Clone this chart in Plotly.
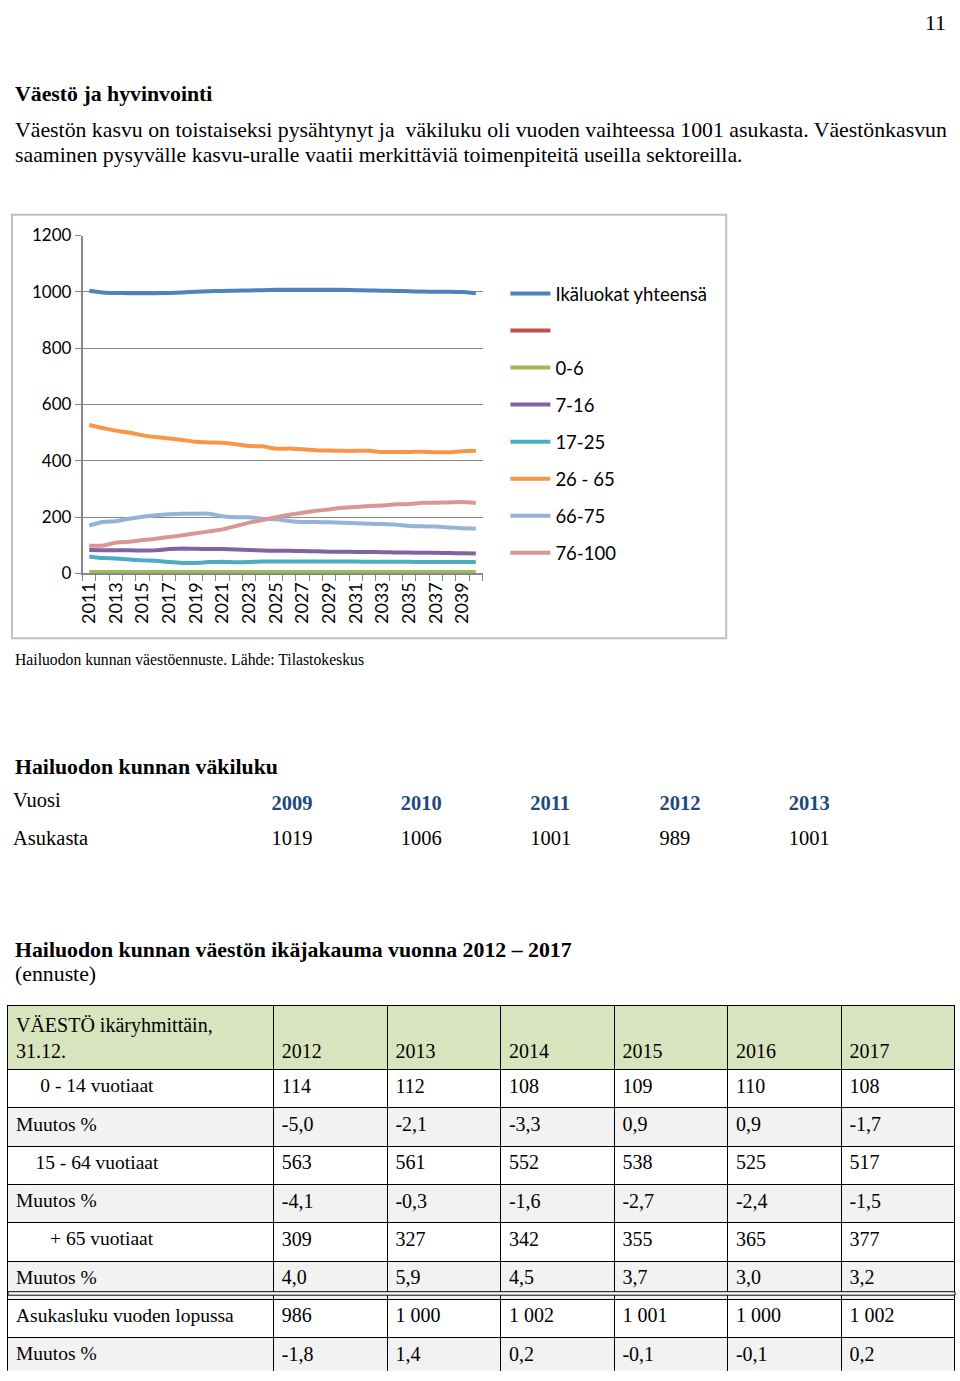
import plotly.graph_objects as go

W, H = 960, 1381

# ---------------- data ----------------
years = list(range(2011, 2041))
year_ticks = list(range(2011, 2040, 2))

total = [1004, 998, 996, 995, 995, 995, 996, 998, 1000, 1002, 1003, 1004, 1005, 1006, 1007,
         1007, 1007, 1007, 1007, 1007, 1006, 1005, 1004, 1003, 1002, 1001, 1000, 1000, 999, 995]
blank = [None] * 30
age_0_6 = [5, 5, 5, 5, 5, 5, 5, 5, 5, 5, 5, 5, 5, 5, 5,
           5, 5, 5, 5, 5, 5, 5, 5, 5, 5, 5, 5, 5, 5, 5]
age_7_16 = [83, 82, 82, 82, 81, 82, 86, 88, 87, 86, 86, 85, 83, 81, 80,
            80, 79, 78, 77, 77, 76, 76, 75, 74, 74, 73, 73, 72, 71, 70]
age_17_25 = [60, 54, 53, 49, 46, 45, 40, 37, 37, 40, 41, 39, 40, 42, 42,
             42, 42, 42, 42, 42, 42, 41, 41, 41, 41, 40, 40, 40, 40, 40]
age_26_65 = [527, 516, 507, 500, 490, 484, 479, 474, 467, 465, 464, 459, 452, 451, 443,
             443, 441, 437, 436, 435, 435, 435, 431, 431, 431, 432, 430, 430, 434, 435]
age_66_75 = [170, 182, 185, 194, 201, 206, 210, 212, 212, 212, 203, 199, 199, 194, 192,
             186, 182, 182, 181, 180, 178, 176, 175, 173, 168, 167, 166, 163, 160, 159]
age_76_100 = [98, 98, 109, 112, 118, 123, 129, 135, 142, 149, 156, 168, 180, 189, 199,
              208, 215, 222, 227, 233, 236, 239, 241, 245, 246, 251, 251, 252, 253, 250]

series = [
    ("Ikäluokat yhteensä", total, "#4F81BD"),
    (" ", blank, "#C0504D"),
    ("0-6", age_0_6, "#9BBB59"),
    ("7-16", age_7_16, "#8064A2"),
    ("17-25", age_17_25, "#4BACC6"),
    ("26 - 65", age_26_65, "#F79646"),
    ("66-75", age_66_75, "#95B3D7"),
    ("76-100", age_76_100, "#D99694"),
]

vak_years = ["2009", "2010", "2011", "2012", "2013"]
vak_values = ["1019", "1006", "1001", "989", "1001"]

tab_years = ["2012", "2013", "2014", "2015", "2016", "2017"]
tab_labels = ["0 - 14 vuotiaat", "Muutos %", "15 - 64 vuotiaat", "Muutos %",
              "+ 65 vuotiaat", "Muutos %", "Asukasluku vuoden lopussa", "Muutos %"]
tab_indent = [5, 0, 4, 0, 7, 0, 0, 0]
row_0_14 = ["114", "112", "108", "109", "110", "108"]
chg_0_14 = ["-5,0", "-2,1", "-3,3", "0,9", "0,9", "-1,7"]
row_15_64 = ["563", "561", "552", "538", "525", "517"]
chg_15_64 = ["-4,1", "-0,3", "-1,6", "-2,7", "-2,4", "-1,5"]
row_65 = ["309", "327", "342", "355", "365", "377"]
chg_65 = ["4,0", "5,9", "4,5", "3,7", "3,0", "3,2"]
row_total = ["986", "1 000", "1 002", "1 001", "1 000", "1 002"]
chg_total = ["-1,8", "1,4", "0,2", "-0,1", "-0,1", "0,2"]
tab_rows = [row_0_14, chg_0_14, row_15_64, chg_15_64, row_65, chg_65, row_total, chg_total]


def px(x):
    return x / W


def py(y):
    return 1 - y / H


SERIF = "Liberation Serif"
SANS = "Lato"
FS = 21.8
TFS = 20

fig = go.Figure()

# ---------------- line chart ----------------
for name, vals, col in series:
    fig.add_trace(go.Scatter(
        x=years, y=vals, name=name, mode="lines",
        line=dict(color=col, width=4, shape="spline", smoothing=0.3),
        legendgroup=name, xaxis="x", yaxis="y", connectgaps=False,
    ))

fig.update_layout(
    xaxis=dict(
        domain=[px(78), px(480)], range=[2010.5, 2040.5],
        tickvals=year_ticks, ticktext=[str(y) for y in year_ticks],
        tickangle=-90, ticks="", showgrid=False, zeroline=False,
        showline=True, linecolor="#888888", linewidth=1.5,
        tickfont=dict(family=SANS, size=18, color="black"),
        minor=dict(tickmode="linear", tick0=2010.5, dtick=1, ticks="outside",
                   ticklen=6, tickcolor="#888888", showgrid=False),
        anchor="y", fixedrange=True,
    ),
    yaxis=dict(
        domain=[py(571), py(228)], range=[0, 1200], dtick=200,
        showgrid=True, gridcolor="#888888", gridwidth=1.2, zeroline=False,
        showline=True, linecolor="#888888", linewidth=1.5,
        ticks="outside", ticklen=6, tickcolor="#888888",
        tickfont=dict(family=SANS, size=17, color="black"),
        anchor="x", fixedrange=True,
    ),
    legend=dict(
        x=px(503), y=py(268), xanchor="left", yanchor="top",
        font=dict(family=SANS, size=18.5, color="black"),
        tracegroupgap=10, itemwidth=40, bgcolor="rgba(0,0,0,0)",
    ),
)

# ---------------- tables ----------------
# small population table
fig.add_trace(go.Table(
    domain=dict(x=[0, px(910)], y=[py(862), py(785)]),
    columnwidth=[260] + [130] * len(vak_years),
    header=dict(
        values=["Vuosi"] + ["<b>%s</b>" % y for y in vak_years],
        align="left", height=37, fill_color="white", line_color="white",
        font=dict(family=SERIF, size=20.5, color=["black"] + ["#1F497D"] * len(vak_years)),
    ),
    cells=dict(
        values=[["Asukasta"]] + [[v] for v in vak_values],
        align="left", height=37, fill_color="white", line_color="white",
        font=dict(family=SERIF, size=20.5, color="black"),
    ),
))

# age distribution table
label_col = ["\u00a0" * n + t for n, t in zip(tab_indent, tab_labels)]
row_fill = ["white" if i % 2 == 0 else "#F2F2F2" for i in range(len(tab_rows))]
fig.add_trace(go.Table(
    domain=dict(x=[px(3), px(955)], y=[0, py(1010)]),
    columnwidth=[267] + [114] * len(tab_years),
    header=dict(
        values=["VÄESTÖ ikäryhmittäin,<br>31.12."] + ["\u00a0<br>" + y for y in tab_years],
        align="left", height=62, fill_color="#D7E4BD", line=dict(color="black", width=1),
        font=dict(family=SERIF, size=TFS, color="black"),
    ),
    cells=dict(
        values=[label_col] + [[r[j] for r in tab_rows] for j in range(len(tab_years))],
        align="left", height=38.3,
        fill_color=[row_fill] * (len(tab_years) + 1),
        line=dict(color="black", width=1),
        font=dict(family=SERIF, size=[19.5] + [TFS] * len(tab_years), color="black"),
    ),
))

# ---------------- page texts ----------------
annotations = [
    dict(text="11", x=px(948), y=py(12), xanchor="right", font=dict(size=FS)),
    dict(text="<b>Väestö ja hyvinvointi</b>", x=px(8), y=py(84), xanchor="left", font=dict(size=FS)),
    dict(text="Väestön kasvu on toistaiseksi pysähtynyt ja\u00a0 väkiluku oli vuoden vaihteessa 1001 asukasta. Väestönkasvun",
         x=px(8), y=py(121), xanchor="left", font=dict(size=FS)),
    dict(text="saaminen pysyvälle kasvu-uralle vaatii merkittäviä toimenpiteitä useilla sektoreilla.",
         x=px(8), y=py(146), xanchor="left", font=dict(size=FS)),
    dict(text="Hailuodon kunnan väestöennuste. Lähde: Tilastokeskus", x=px(8), y=py(659),
         xanchor="left", font=dict(size=15.7)),
    dict(text="<b>Hailuodon kunnan väkiluku</b>", x=px(8), y=py(768), xanchor="left", font=dict(size=FS)),
    dict(text="<b>Hailuodon kunnan väestön ikäjakauma vuonna 2012 – 2017</b>", x=px(8), y=py(953),
         xanchor="left", font=dict(size=FS)),
    dict(text="(ennuste)", x=px(8), y=py(978), xanchor="left", font=dict(size=FS)),
]
for a in annotations:
    a.update(xref="paper", yref="paper", yanchor="middle", showarrow=False)
    a["font"].update(family=SERIF, color="black")

shapes = [
    # chart frame
    dict(type="rect", xref="paper", yref="paper", x0=px(7), x1=px(725), y0=py(637), y1=py(207),
         line=dict(color="#BFBFBF", width=2), fillcolor="rgba(0,0,0,0)", layer="below"),
    # double rule above the total row
    dict(type="rect", xref="paper", yref="paper", x0=px(3), x1=px(955), y0=py(1304), y1=py(1300.5),
         line=dict(color="black", width=1), fillcolor="white", layer="above"),
]

fig.update_layout(
    width=W, height=H, margin=dict(l=0, r=0, t=0, b=0),
    paper_bgcolor="white", plot_bgcolor="white",
    annotations=annotations, shapes=shapes, showlegend=True,
)

fig.write_html(
    "out.html",
    config={"displayModeBar": False},
    post_script="document.body.style.margin='0';document.body.style.overflow='hidden';",
)
